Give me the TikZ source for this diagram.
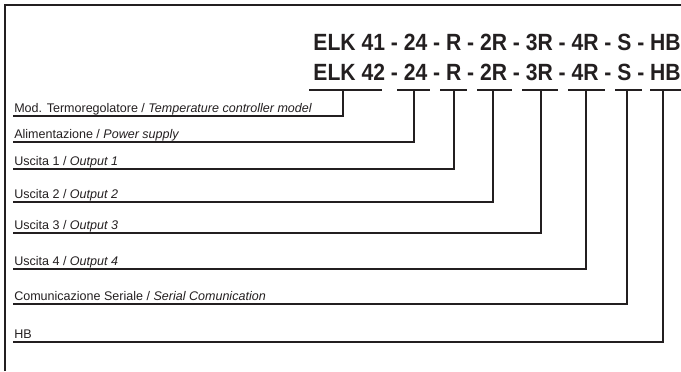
\documentclass[tikz,border=0pt]{standalone}
\usepackage{fontspec}
\setmainfont{Liberation Sans}
\newfontfamily\codefont[FakeStretch=0.9]{Liberation Sans}
\usetikzlibrary{positioning}
\definecolor{ink}{HTML}{231F20}

\begin{document}
\begin{tikzpicture}[x=0.75pt,y=-0.75pt,
  code/.style={font=\codefont\bfseries\fontsize{17.6}{19}\selectfont,inner sep=0pt,anchor=base east,text=ink},
  lab/.style={font=\fontsize{9.4}{11}\selectfont,inner sep=0pt,anchor=base west,text=ink},
  wire/.style={line width=1.1pt,draw=ink},
  bar/.style={line width=0.8pt,draw=ink}]
\useasboundingbox (0,0) rectangle (681,371);
% ---- frame (top and left edge) ----
\draw[line width=1.5pt,ink] (5,371) -- (5,5) -- (681,5);
% ---- model codes ----
\node[code] (code1) at (681,50) {ELK 41 - 24 - R - 2R - 3R - 4R - S - HB};
\node[code] (code2) at (681,80) {ELK 42 - 24 - R - 2R - 3R - 4R - S - HB};
% ---- bars under each field ----
\foreach \a/\b in {309/382,397/430,440/467,477/512,522/558,568/605,615/642,650/681}
  \draw[bar] (\a,90) -- (\b,90);
\foreach \i/\xx in {1/343,2/414,3/454,4/493,5/541,6/586,7/627,8/663}
  \coordinate (b\i) at (\xx,90);
% ---- field labels and leader lines ----
\foreach \i/\yy/\txt in {
  1/116/{Mod. Termoregolatore / \textit{Temperature controller model}},
  2/142/{Alimentazione / \textit{Power supply}},
  3/169/{Uscita 1 / \textit{Output 1}},
  4/202/{Uscita 2 / \textit{Output 2}},
  5/233/{Uscita 3 / \textit{Output 3}},
  6/269/{Uscita 4 / \textit{Output 4}},
  7/304/{Comunicazione Seriale / \textit{Serial Comunication}},
  8/342/{HB}} {
  \coordinate (r\i) at (13,\yy);
  \node[lab] (lab\i) at (14,\yy-4) {\txt};
  \draw[wire] (r\i) -| (b\i);
}
\end{tikzpicture}
\end{document}
